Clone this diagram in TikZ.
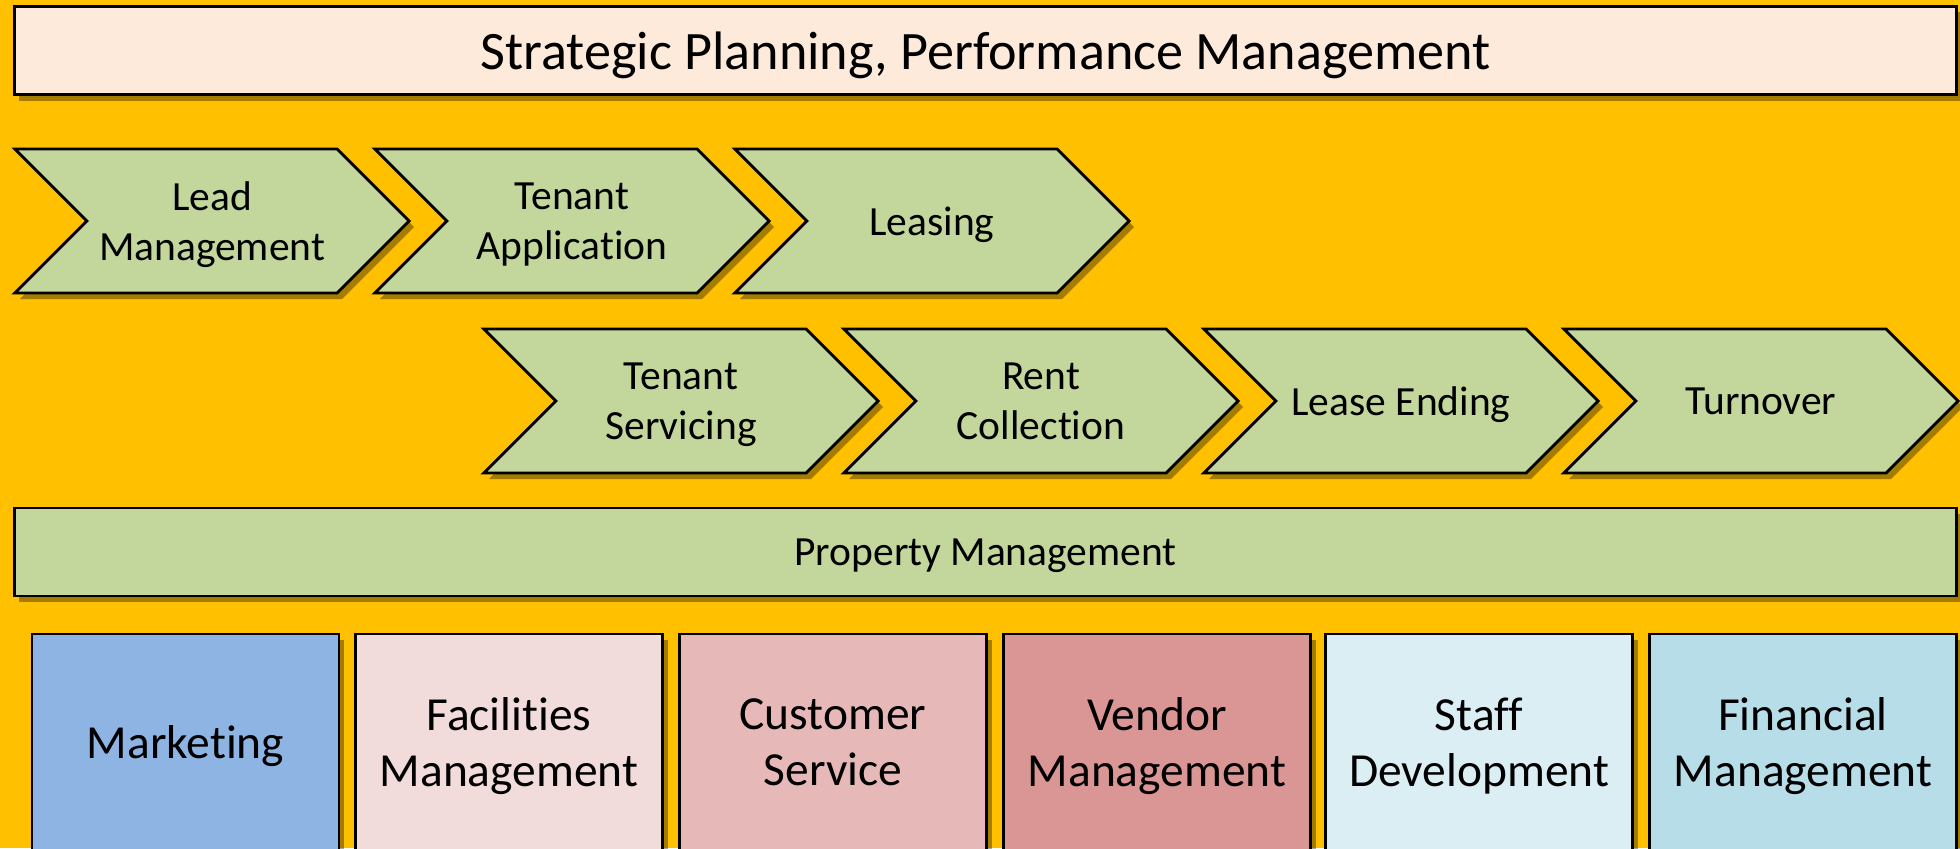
\documentclass[tikz,border=0pt]{standalone}
\usepackage{fontspec}
\setmainfont{Carlito}[Ligatures=NoCommon]
\usetikzlibrary{shapes.symbols,shadows}

\definecolor{bgorange}{HTML}{FFC000}
\definecolor{peach}{HTML}{FDEADA}
\definecolor{sage}{HTML}{C3D69B}
\definecolor{mktblue}{HTML}{8EB4E3}
\definecolor{facpink}{HTML}{F2DCDB}
\definecolor{custrose}{HTML}{E6B9B8}
\definecolor{vendred}{HTML}{D99694}
\definecolor{staffblue}{HTML}{DBEEF4}
\definecolor{finblue}{HTML}{B7DEE8}

\begin{document}
\begin{tikzpicture}[x=0.01cm,y=-0.01cm,
    boxed/.style={draw=black,line width=0.8pt,inner sep=0pt,align=center,text depth=0pt,
      drop shadow={shadow xshift=0.05cm,shadow yshift=-0.06cm,fill=black,opacity=0.35}},
    bar/.style={boxed,minimum width=19.41cm,minimum height=0.88cm},
    chev/.style={boxed,fill=sage,signal,signal to=east,signal from=west,
      signal pointer angle=90,minimum width=3.94cm,minimum height=1.44cm,
      font=\fontsize{11.8}{14.2}\selectfont},
    unit/.style={boxed,minimum width=3.07cm,minimum height=2.16cm,
      font=\fontsize{13.5}{16}\selectfont}]
  \useasboundingbox (0,0) rectangle (1960,848);
  \clip (0,0) rectangle (1960,848);
  % Background
  \fill[bgorange] (0,0) rectangle (1960,848);
  % Top band
  \node[bar,fill=peach,font=\fontsize{15.4}{18}\selectfont] (plan) at (985.5,50.5)
    {Strategic Planning, Performance Management};
  % Leasing process, first row
  \node[chev] (lead)   at (212,221) {Lead\\Management};
  \node[chev] (apply)  at (572,221) {Tenant\\Application};
  \node[chev] (lease)  at (932,221) {Leasing};
  % Leasing process, second row
  \node[chev] (serv)   at (681,401)  {Tenant\\Servicing};
  \node[chev] (rent)   at (1041,401) {Rent\\Collection};
  \node[chev] (ending) at (1401,401) {Lease Ending};
  \node[chev] (turn)   at (1761,401) {Turnover};
  % Property management band
  \node[bar,fill=sage,font=\fontsize{11.8}{14}\selectfont] (prop) at (985.5,552)
    {Property Management};
  % Support functions
  \node[unit,fill=mktblue]   (mkt)   at (185.5,742) {Marketing};
  \node[unit,fill=facpink]   (fac)   at (509,742)   {Facilities\\Management};
  \node[unit,fill=custrose]  (cust)  at (833,742)   {Customer\\Service};
  \node[unit,fill=vendred]   (vend)  at (1157,742)  {Vendor\\Management};
  \node[unit,fill=staffblue] (staff) at (1479,742)  {Staff\\Development};
  \node[unit,fill=finblue]   (fin)   at (1803,742)  {Financial\\Management};
\end{tikzpicture}
\end{document}
